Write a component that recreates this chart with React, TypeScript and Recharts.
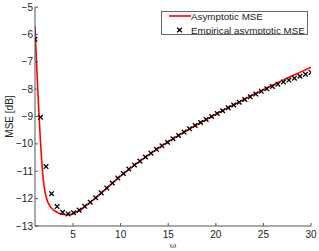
import { ComposedChart, Line, Scatter, XAxis, YAxis, Label } from 'recharts';

// empirical points (crosses)
const EMP_W = [
  1.0, 1.58, 2.16, 2.74, 3.32, 3.9, 4.48, 5.06, 5.64, 6.22,
  6.8, 7.38, 7.96, 8.54, 9.12, 9.7, 10.28, 10.86, 11.44, 12.02,
  12.6, 13.18, 13.76, 14.34, 14.92, 15.5, 16.08, 16.66, 17.24, 17.82,
  18.4, 18.98, 19.56, 20.14, 20.72, 21.3, 21.88, 22.46, 23.04, 23.62,
  24.2, 24.78, 25.36, 25.94, 26.52, 27.1, 27.68, 28.26, 28.84, 29.42, 30.0,
];
const EMP_MSE = [
  -6.18, -9.03, -10.83, -11.82, -12.29, -12.5, -12.56, -12.52, -12.42, -12.28,
  -12.13, -11.97, -11.79, -11.61, -11.43, -11.25, -11.08, -10.92, -10.77, -10.63,
  -10.48, -10.34, -10.2, -10.07, -9.94, -9.81, -9.69, -9.57, -9.45, -9.33,
  -9.22, -9.11, -9.0, -8.89, -8.79, -8.68, -8.58, -8.48, -8.38, -8.28,
  -8.18, -8.08, -7.99, -7.9, -7.82, -7.74, -7.67, -7.6, -7.53, -7.46, -7.39,
];

// asymptotic curve (red)
const ASYM_W = [
  1.0, 1.1, 1.2, 1.3, 1.4, 1.5, 1.6, 1.7, 1.8, 1.9, 2.0, 2.2, 2.4, 2.7, 3.0, 3.5,
  4.0, 4.5, 5.0, 5.5, 6.0, 6.5, 7, 8, 9, 10, 11, 12, 13, 14, 15, 16, 17, 18, 19,
  20, 21, 22, 23, 24, 25, 26, 27, 28, 29, 30,
];
const ASYM_MSE = [
  -5.7, -6.55, -7.35, -8.1, -8.8, -9.45, -10.05, -10.6, -11.05, -11.4, -11.65, -11.98,
  -12.17, -12.33, -12.43, -12.53, -12.58, -12.59, -12.55, -12.47, -12.36, -12.22, -12.08,
  -11.79, -11.48, -11.18, -10.9, -10.64, -10.39, -10.15, -9.93, -9.71, -9.5, -9.3, -9.11,
  -8.92, -8.73, -8.55, -8.37, -8.19, -8.02, -7.85, -7.68, -7.52, -7.36, -7.2,
];

const X_TICKS = [5, 10, 15, 20, 25, 30];
const Y_TICKS = [-13, -12, -11, -10, -9, -8, -7, -6, -5];

const empData = EMP_W.map((w, i) => ({ x: w, y: EMP_MSE[i] }));
const asymData = ASYM_W.map((w, i) => ({ x: w, y: ASYM_MSE[i] }));

const FONT = '"Liberation Sans", Arial, sans-serif';
const AXIS = '#555';
const TXT = '#222';

const fmt = (v: number) => (v < 0 ? '\u2212' + Math.abs(v) : String(v));

function BottomTick({ x, y, payload }: any) {
  return (
    <g>
      <line x1={x} x2={x} y1={y} y2={y - 3} stroke={AXIS} />
      <text x={x} y={y + 8.5} textAnchor="middle" dominantBaseline="central" fontSize={10} fill={TXT} fontFamily={FONT}>
        {payload.value}
      </text>
    </g>
  );
}

function TopTick({ x, y }: any) {
  return <line x1={x} x2={x} y1={y} y2={y + 3} stroke={AXIS} />;
}

function LeftTick({ x, y, payload }: any) {
  return (
    <g>
      <line x1={x} x2={x + 3} y1={y} y2={y} stroke={AXIS} />
      <text x={x - 2} y={y} textAnchor="end" dominantBaseline="central" fontSize={10} fill={TXT} fontFamily={FONT}>
        {fmt(payload.value)}
      </text>
    </g>
  );
}

function RightTick({ x, y }: any) {
  return <line x1={x} x2={x - 3} y1={y} y2={y} stroke={AXIS} />;
}

function Cross({ cx, cy }: any) {
  const s = 2.3;
  return (
    <path
      d={`M${cx - s},${cy - s}L${cx + s},${cy + s}M${cx + s},${cy - s}L${cx - s},${cy + s}`}
      stroke="#000"
      strokeWidth={1.3}
      fill="none"
    />
  );
}

function LegendBox() {
  return (
    <div style={{ position: 'absolute', left: 161, top: 11, width: 147, height: 24, background: '#fff', border: '1px solid #666', boxSizing: 'border-box' }}>
      <svg width={145} height={22} style={{ display: 'block' }}>
        <line x1={7} x2={29} y1={4} y2={4} stroke="#f00" strokeWidth={1.6} />
        <text x={29} y={4} dominantBaseline="central" fontSize={9.8} fill={TXT} fontFamily={FONT}>
          Asymptotic MSE
        </text>
        <Cross cx={17.5} cy={18} />
        <text x={29} y={18} dominantBaseline="central" fontSize={9.8} fill={TXT} fontFamily={FONT}>
          Empirical asymptotic MSE
        </text>
      </svg>
    </div>
  );
}

export default function App() {
  return (
    <div style={{ position: 'absolute', left: 0, top: 0, width: 319, height: 251, background: '#fff' }}>
      <ComposedChart width={319} height={251} margin={{ top: 7, right: 8, bottom: 0, left: 0 }}>
        <XAxis
          dataKey="x"
          type="number"
          domain={[1, 30]}
          ticks={X_TICKS}
          interval={0}
          height={25}
          tickSize={0}
          tickMargin={0}
          tickLine={false}
          tick={<BottomTick />}
          axisLine={{ stroke: AXIS }}
          allowDataOverflow
        >
          <Label
            content={({ viewBox }: any) => (
              <text
                x={viewBox.x + viewBox.width / 2}
                y={viewBox.y + 19.5}
                textAnchor="middle"
                dominantBaseline="central"
                fontSize={8}
                fill={TXT}
                fontFamily="DejaVu Serif, serif"
              >
                ω
              </text>
            )}
          />
        </XAxis>
        <XAxis
          xAxisId="top"
          orientation="top"
          type="number"
          domain={[1, 30]}
          ticks={X_TICKS}
          interval={0}
          height={0}
          tickSize={0}
          tickMargin={0}
          tickLine={false}
          tick={<TopTick />}
          axisLine={{ stroke: AXIS }}
        />
        <YAxis
          type="number"
          domain={[-13, -5]}
          ticks={Y_TICKS}
          interval={0}
          width={35}
          tickSize={0}
          tickMargin={0}
          tickLine={false}
          tick={<LeftTick />}
          axisLine={{ stroke: AXIS }}
          allowDataOverflow
        >
          <Label
            content={({ viewBox }: any) => {
              const cx = viewBox.x + 9;
              const cy = viewBox.y + viewBox.height / 2;
              return (
                <text
                  x={cx}
                  y={cy}
                  transform={`rotate(-90 ${cx} ${cy})`}
                  textAnchor="middle"
                  dominantBaseline="central"
                  fontSize={10}
                  fill={TXT}
                  fontFamily={FONT}
                >
                  MSE [dB]
                </text>
              );
            }}
          />
        </YAxis>
        <YAxis
          yAxisId="right"
          orientation="right"
          type="number"
          domain={[-13, -5]}
          ticks={Y_TICKS}
          interval={0}
          width={0}
          tickSize={0}
          tickMargin={0}
          tickLine={false}
          tick={<RightTick />}
          axisLine={{ stroke: AXIS }}
        />
        <Line
          data={asymData}
          dataKey="y"
          type="monotone"
          stroke="#f00"
          strokeWidth={1.6}
          dot={false}
          activeDot={false}
          isAnimationActive={false}
        />
        <Scatter data={empData} dataKey="y" shape={<Cross />} isAnimationActive={false} />
      </ComposedChart>
      <LegendBox />
    </div>
  );
}
